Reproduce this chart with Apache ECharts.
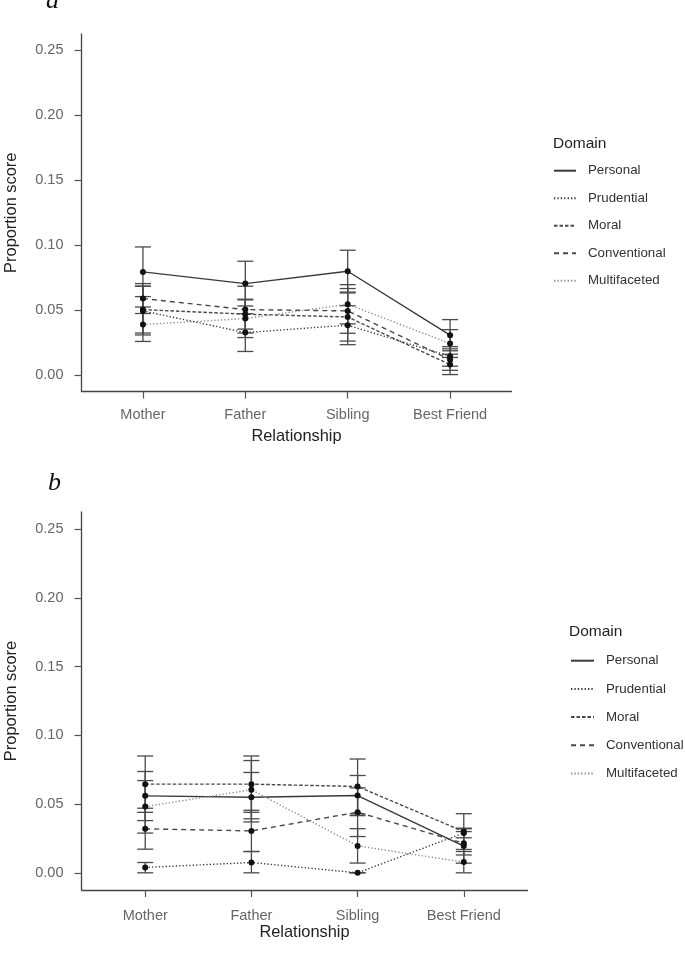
<!DOCTYPE html>
<html><head><meta charset="utf-8">
<script src="https://cdn.jsdelivr.net/npm/echarts@6/dist/echarts.min.js"></script>
<style>html,body{margin:0;padding:0;background:#fff}#c{width:685px;height:959px}</style>
</head><body><div id="c"></div>
<script>
const categories = ['Mother', 'Father', 'Sibling', 'Best Friend'];
const catPositions = [1, 2, 3, 4];
const domains = ['Personal', 'Prudential', 'Moral', 'Conventional', 'Multifaceted'];
const yTicks = [0, 0.05, 0.10, 0.15, 0.20, 0.25];

// Panel a: means, lower and upper error bar ends
const aPersonal = [0.0795, 0.0705, 0.080, 0.0308];
const aPersonalLo = [0.0605, 0.0533, 0.064, 0.0188];
const aPersonalHi = [0.0987, 0.0877, 0.0962, 0.0428];
const aPrudential = [0.0495, 0.0328, 0.0385, 0.0146];
const aPrudentialLo = [0.031, 0.0183, 0.0235, 0.007];
const aPrudentialHi = [0.0685, 0.0473, 0.0535, 0.022];
const aMoral = [0.0505, 0.047, 0.0448, 0.0082];
const aMoralLo = [0.0325, 0.0355, 0.0263, 0.0005];
const aMoralHi = [0.0685, 0.0585, 0.0633, 0.0162];
const aConventional = [0.059, 0.0505, 0.0495, 0.012];
const aConventionalLo = [0.0475, 0.0325, 0.0323, 0.0038];
const aConventionalHi = [0.0705, 0.0685, 0.0667, 0.0203];
const aMultifaceted = [0.039, 0.0436, 0.0546, 0.0244];
const aMultifacetedLo = [0.026, 0.029, 0.0395, 0.0137];
const aMultifacetedHi = [0.0525, 0.058, 0.0697, 0.0351];

// Panel b
const bPersonal = [0.056, 0.055, 0.0562, 0.0195];
const bPersonalLo = [0.038, 0.037, 0.0416, 0.007];
const bPersonalHi = [0.0737, 0.073, 0.0708, 0.032];
const bPrudential = [0.0039, 0.0075, 0.0, 0.029];
const bPrudentialLo = [0.0, 0.0, 0.0, 0.0255];
const bPrudentialHi = [0.0075, 0.0155, 0.0, 0.0325];
const bMoral = [0.0645, 0.0645, 0.0628, 0.030];
const bMoralLo = [0.044, 0.044, 0.0428, 0.017];
const bMoralHi = [0.085, 0.085, 0.0828, 0.043];
const bConventional = [0.032, 0.0305, 0.0441, 0.0215];
const bConventionalLo = [0.0172, 0.0155, 0.0264, 0.013];
const bConventionalHi = [0.047, 0.0455, 0.0618, 0.030];
const bMultifaceted = [0.0482, 0.0604, 0.0196, 0.0078];
const bMultifacetedLo = [0.0289, 0.0393, 0.0071, 0.0];
const bMultifacetedHi = [0.0671, 0.0817, 0.0321, 0.0155];

const FONT = 'Liberation Sans, Arial, sans-serif';
const lineStyles = [
  {color: '#3a3a3a', width: 1.4, type: 'solid'},
  {color: '#3a3a3a', width: 1.4, type: [1.3, 2.1]},
  {color: '#4a4a4a', width: 1.4, type: [3.5, 2]},
  {color: '#4a4a4a', width: 1.4, type: [5, 4]},
  {color: '#8c8c8c', width: 1.4, type: [1.3, 2.1]}
];

function renderErr(params, api) {
  const x = api.value(0);
  const lo = api.coord([x, api.value(1)]);
  const hi = api.coord([x, api.value(2)]);
  const w = 8;
  const st = {stroke: '#4a4a4a', lineWidth: 1.3};
  return {type: 'group', children: [
    {type: 'line', shape: {x1: lo[0], y1: lo[1], x2: hi[0], y2: hi[1]}, style: st},
    {type: 'line', shape: {x1: lo[0] - w, y1: lo[1], x2: lo[0] + w, y2: lo[1]}, style: st},
    {type: 'line', shape: {x1: hi[0] - w, y1: hi[1], x2: hi[0] + w, y2: hi[1]}, style: st}
  ]};
}

function panelSeries(idx, means, los, his) {
  const out = [];
  domains.forEach((d, k) => {
    out.push({
      type: 'custom', name: d + ' (error)', xAxisIndex: idx, yAxisIndex: idx, z: 1, silent: true,
      renderItem: renderErr, encode: {x: 0, y: [1, 2]},
      data: catPositions.map((p, i) => [p, los[k][i], his[k][i]])
    });
  });
  domains.forEach((d, k) => {
    out.push({
      type: 'line', name: d, xAxisIndex: idx, yAxisIndex: idx, z: 3,
      symbol: 'circle', symbolSize: 6, itemStyle: {color: '#111'},
      lineStyle: lineStyles[k], emphasis: {disabled: true},
      data: catPositions.map((p, i) => [p, means[k][i]])
    });
  });
  return out;
}

function xAxisCfg(idx, margin, nameGap) {
  return {
    type: 'value', gridIndex: idx, min: 0.4, max: 4.6,
    axisLine: {onZero: false, lineStyle: {color: '#444', width: 1.3}},
    axisTick: {customValues: catPositions, length: 7, lineStyle: {color: '#555', width: 1.2}},
    axisLabel: {customValues: catPositions, margin: margin, fontSize: 14.5, color: '#666', fontFamily: FONT,
      formatter: v => categories[Math.round(v) - 1]},
    splitLine: {show: false},
    name: 'Relationship', nameLocation: 'middle', nameGap: nameGap,
    nameTextStyle: {fontSize: 16.4, color: '#222', fontFamily: FONT}
  };
}
function yAxisCfg(idx) {
  return {
    type: 'value', gridIndex: idx, min: -0.0125, max: 0.2625,
    axisLine: {show: true, onZero: false, lineStyle: {color: '#444', width: 1.3}},
    axisTick: {show: true, customValues: yTicks, length: 7, lineStyle: {color: '#555', width: 1.2}},
    axisLabel: {customValues: yTicks, margin: 18, fontSize: 14.5, color: '#666', fontFamily: FONT,
      formatter: v => v.toFixed(2)},
    splitLine: {show: false},
    name: 'Proportion score', nameLocation: 'middle', nameGap: 62,
    nameTextStyle: {fontSize: 16.4, color: '#222', fontFamily: FONT}
  };
}
function legendCfg(left, top, itemWidth, gap) {
  return {
    orient: 'vertical', left: left, top: top, padding: 0, itemWidth: itemWidth, itemHeight: 14, itemGap: gap,
    data: domains, selectedMode: false, itemStyle: {opacity: 0},
    textStyle: {fontSize: 13.3, color: '#333', fontFamily: FONT, lineHeight: 14, padding: [0, 0, 0, 7]}
  };
}

const chart = echarts.init(document.getElementById('c'), null, {renderer: 'canvas'});
chart.setOption({
  animation: false,
  backgroundColor: '#fff',
  grid: [
    {left: 81.5, top: 34, width: 430, height: 357.5, outerBoundsMode: 'none', containLabel: false},
    {left: 81.5, top: 512, width: 446, height: 378, outerBoundsMode: 'none', containLabel: false}
  ],
  xAxis: [xAxisCfg(0, 16, 37), xAxisCfg(1, 18, 34)],
  yAxis: [yAxisCfg(0), yAxisCfg(1)],
  legend: [legendCfg(553, 163.7, 22, 13.5), legendCfg(570, 653.7, 23, 14.2)],
  graphic: [
    {type: 'text', left: 46, top: -12, style: {text: 'a', font: 'italic 26px "Liberation Serif", serif', fill: '#111'}},
    {type: 'text', left: 48, top: 470, style: {text: 'b', font: 'italic 26px "Liberation Serif", serif', fill: '#111'}},
    {type: 'text', left: 553, top: 136, style: {text: 'Domain', font: '15.5px "Liberation Sans", Arial, sans-serif', fill: '#222'}},
    {type: 'text', left: 569, top: 624, style: {text: 'Domain', font: '15.5px "Liberation Sans", Arial, sans-serif', fill: '#222'}}
  ],
  series: [].concat(
    panelSeries(0,
      [aPersonal, aPrudential, aMoral, aConventional, aMultifaceted],
      [aPersonalLo, aPrudentialLo, aMoralLo, aConventionalLo, aMultifacetedLo],
      [aPersonalHi, aPrudentialHi, aMoralHi, aConventionalHi, aMultifacetedHi]),
    panelSeries(1,
      [bPersonal, bPrudential, bMoral, bConventional, bMultifaceted],
      [bPersonalLo, bPrudentialLo, bMoralLo, bConventionalLo, bMultifacetedLo],
      [bPersonalHi, bPrudentialHi, bMoralHi, bConventionalHi, bMultifacetedHi])
  )
});
</script></body></html>
